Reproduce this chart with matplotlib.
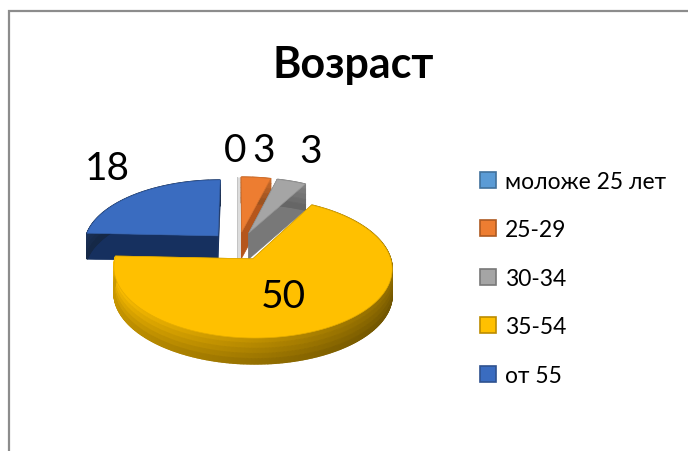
import matplotlib
matplotlib.use('Agg')
import numpy as np
import matplotlib.pyplot as plt
from matplotlib.colors import to_rgb
from matplotlib.patches import Patch

plt.rcParams['font.family'] = ['Lato', 'Open Sans', 'DejaVu Sans']

categories = ['моложе 25 лет', '25-29', '30-34', '35-54', 'от 55']
values = [0, 3, 3, 50, 18]
title = 'Возраст'

colors = ['#5B9BD5', '#ED7D31', '#A5A5A5', '#FFC000', '#3A6CC0']
edges = ['#41719C', '#AE5A21', '#787878', '#BC8C00', '#2F528F']

# projection of the tilted pie, in pixels
cx, cy = 238, 247
rx, ry = 134.5, 65.4
persp = 0.128
expl = 0.22
depth = 26


def project(u, v):
    s = 1 / (1 + persp * v)
    return cx + rx * u * s, cy - ry * v * s


def mix(col, k):
    c = np.array(to_rgb(col))
    return tuple(np.clip(c * k, 0, 1))


def wall_shade(theta):
    # light falls from the left, right side goes dark
    return 0.5 + 0.2 * (1 - np.cos(np.radians(theta - 100)))


fig = plt.figure(figsize=(6.88, 4.52), dpi=100)
ax = fig.add_axes([0, 0, 1, 1])
ax.set_xlim(0, 688)
ax.set_ylim(452, 0)
ax.axis('off')

ax.plot([9, 9, 688], [452, 12, 12], color='#8c8c8c', lw=1.6, solid_joinstyle='miter')

total = sum(values)
starts = np.cumsum([0] + values[:-1]) / total * 360
sweeps = np.array(values) / total * 360
side_cols = ['#dcdcdc', '#B5561C', '#787878', '#FFC000', '#16305F']
wall_k = [0.8, 0.75, 0.7, 0.8, 0.42]


def draw_slice(i, z):
    a, b = starts[i], starts[i] + sweeps[i]
    mid = np.radians((a + b) / 2)
    ou, ov = expl * np.sin(mid), expl * np.cos(mid)
    th = np.linspace(a, b, max(int(sweeps[i]) * 2, 2))
    rim_u = ou + np.sin(np.radians(th))
    rim_v = ov + np.cos(np.radians(th))
    x, y = project(rim_u, rim_v)
    ax0, ay0 = project(ou, ov)

    if values[i] == 0:
        # empty slice still shows as a thin strip
        ax.plot([x[0] + 1, ax0 + 1, ax0 + 1], [y[0], ay0, ay0 + depth], color=side_cols[i],
                lw=3.6, zorder=z, solid_capstyle='butt')
        ax.plot([x[0] - 1.5, ax0 - 1.5, ax0 - 1.5], [y[0], ay0, ay0 + depth], color='#c4c4c4',
                lw=0.7, zorder=z)
        return

    # flat cut faces
    for px, py in ((x[0], y[0]), (x[-1], y[-1])):
        ax.fill([ax0, px, px, ax0], [ay0, py, py + depth, ay0 + depth],
                color=side_cols[i] if i != 3 else '#a88000', lw=0.5, zorder=z)

    # outer wall
    n_rows = 5
    for j in range(len(th) - 1):
        k = wall_shade((th[j] + th[j + 1]) / 2) if i == 3 else wall_k[i]
        for r in range(n_rows):
            t0, t1 = r / n_rows, (r + 1) / n_rows
            col = mix(colors[i], k * (1.12 - 0.3 * t0))
            ax.fill([x[j], x[j + 1], x[j + 1], x[j]],
                    [y[j] + depth * t0, y[j + 1] + depth * t0,
                     y[j + 1] + depth * t1, y[j] + depth * t1],
                    color=col, lw=1.0, zorder=z)

    ax.fill(np.r_[ax0, x], np.r_[ay0, y], facecolor=colors[i], edgecolor=mix(colors[i], 0.9),
            lw=0.5, zorder=z + 0.5)


for z, i in enumerate([4, 0, 1, 2, 3]):
    draw_slice(i, z + 2)

label_x = [235, 264, 311, 283, 107]
label_y = [151, 151, 152, 297, 169]
for v, lx, ly in zip(values, label_x, label_y):
    ax.text(lx, ly, str(v), fontsize=28, color='black', ha='center', va='center', zorder=10)

ax.text(353, 65, title, fontsize=31, fontweight='bold', color='black', ha='center', va='center')

handles = [Patch(facecolor=c, edgecolor=e, lw=1.2) for c, e in zip(colors, edges)]
ax.legend(handles, categories, loc='center left', bbox_to_anchor=(0.698, 0.382), frameon=False,
          fontsize=16.5, handlelength=0.68, handleheight=0.68, handletextpad=0.4,
          labelspacing=1.2, borderpad=0, borderaxespad=0)

fig.savefig('out.png', dpi=100)
